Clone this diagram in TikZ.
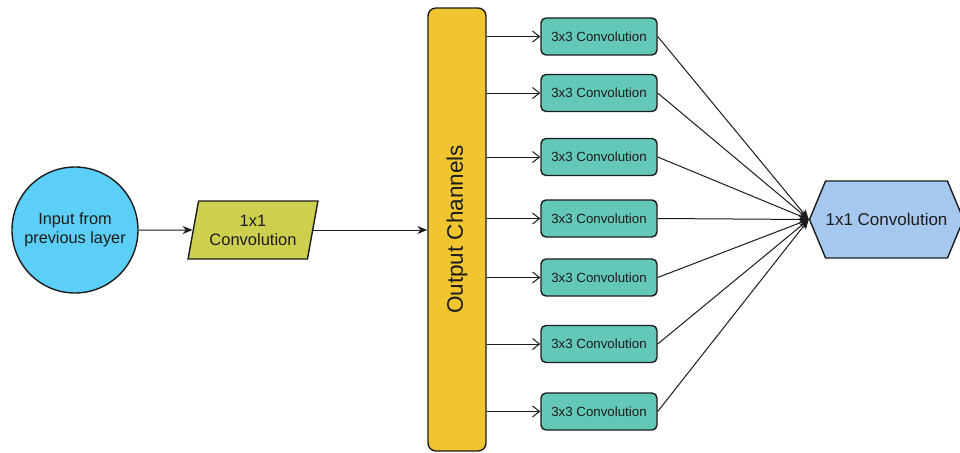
\documentclass[tikz,border=0pt]{standalone}
\usepackage{fontspec}
\setmainfont{Liberation Sans}
\usetikzlibrary{shapes.geometric,shapes.symbols,arrows.meta}
\definecolor{inblue}{HTML}{5CCFF8}
\definecolor{convgreen}{HTML}{CDD04E}
\definecolor{baryellow}{HTML}{F0C530}
\definecolor{boxteal}{HTML}{64C8B8}
\definecolor{hexblue}{HTML}{A6C8EE}
\definecolor{ink}{HTML}{1C1C1C}
\tikzset{
  shapeline/.style={draw=ink, line width=1.4pt, text=ink},
  convbox/.style={shapeline, rectangle, rounded corners=5, fill=boxteal,
    minimum width=116, minimum height=37, inner sep=0pt,
    font=\fontsize{13.3}{16}\selectfont},
  feed/.style={draw=ink, line width=1pt, -{Straight Barb[length=7pt,width=11pt]}},
  merge/.style={draw=ink, line width=1pt, -{Stealth[length=10pt,width=8pt]}},
}
\begin{document}
\begin{tikzpicture}[x=1pt, y=-1pt]
  \useasboundingbox (0,0) rectangle (960,452);
  \fill[white] (0,0) rectangle (960,452);

  % input and first 1x1 convolution
  \node[shapeline, circle, fill=inblue, minimum size=126, inner sep=0pt,
        align=center, font=\fontsize{16.3}{19}\selectfont]
        (input) at (75,230) {Input from\\previous layer};
  \node[shapeline, trapezium, trapezium left angle=74.6, trapezium right angle=105.4,
        trapezium stretches=true, fill=convgreen, minimum width=130, minimum height=58,
        inner sep=0pt, align=center, font=\fontsize{16.5}{19}\selectfont]
        (conv1) at (253,230) {1x1\\Convolution};

  % output channel bar
  \node[shapeline, rectangle, rounded corners=8, fill=baryellow,
        minimum width=58, minimum height=443, inner sep=0pt] (bar) at (457,229.5) {};
  \node[rotate=90, text=ink, font=\fontsize{22.5}{26}\selectfont] (barlabel) at (bar.center) {Output Channels};

  % parallel 3x3 convolutions
  \foreach \i/\y in {1/36.5, 2/93, 3/157, 4/218.5, 5/277.5, 6/344, 7/411.5} {
    \node[convbox] (b\i) at (599,\y) {3x3 Convolution};
  }

  % final 1x1 convolution
  \node[shapeline, signal, signal to=west and east, signal pointer angle=134.8,
        fill=hexblue, minimum width=153, minimum height=77, inner sep=0pt,
        font=\fontsize{17}{20}\selectfont] (conv2) at (886.5,219.5) {1x1 Convolution};

  % connectors
  \draw[merge] (input.east) -- (conv1.west);
  \draw[merge] (conv1.east) -- (bar.west |- conv1.east);
  \foreach \i in {1,...,7} {
    \draw[feed] (bar.east |- b\i.west) -- (b\i.west);
    \draw[merge] (b\i.east) -- (conv2.west);
  }
\end{tikzpicture}
\end{document}
